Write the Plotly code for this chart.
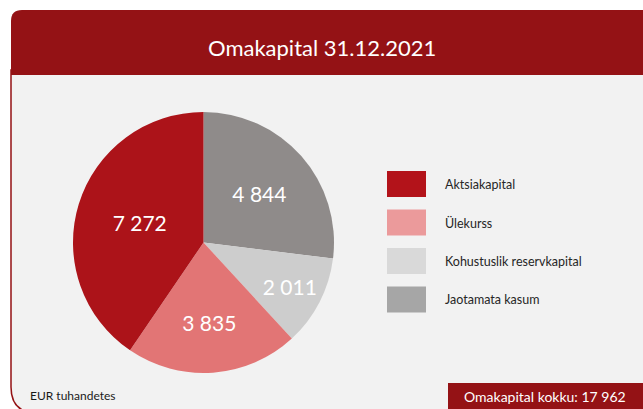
import plotly.graph_objects as go

# ---- data ----
categories = ["Jaotamata kasum", "Kohustuslik reservkapital", "Ülekurss", "Aktsiakapital"]
values = [4844, 2011, 3835, 7272]
slice_colors = ["#8f8b8a", "#cdcdcd", "#e27575", "#ac1319"]
legend_order = ["Aktsiakapital", "Ülekurss", "Kohustuslik reservkapital", "Jaotamata kasum"]
legend_colors = ["#b3131a", "#eb9a9b", "#d9d9d9", "#a6a6a6"]
title_text = "Omakapital 31.12.2021"
unit_text = "EUR tuhandetes"
total_label = "Omakapital kokku: "

W, H = 643, 409
FONT = "Lato, 'Open Sans', sans-serif"
DARK_RED = "#941215"


def px(x):
    return x / W


def py(y):
    return 1 - y / H


fig = go.Figure()

fig.add_trace(go.Pie(
    labels=categories,
    values=values,
    sort=False,
    direction="clockwise",
    rotation=0,
    marker=dict(colors=slice_colors, line=dict(width=0)),
    texttemplate="%{value:,.0f}",
    textposition="inside",
    insidetextorientation="horizontal",
    textfont=dict(color="white", size=21, family=FONT),
    hoverinfo="label+value",
    domain=dict(x=[px(73), px(334)], y=[py(373), py(112)]),
    showlegend=False,
))


def pth(cmds):
    out = []
    for c in cmds:
        if isinstance(c, str):
            out.append(c)
        else:
            out.append(f"{px(c[0]):.5f},{py(c[1]):.5f}")
    return " ".join(out)


shapes = []
# body panel
shapes.append(dict(
    type="path", xref="paper", yref="paper", layer="below",
    path=pth(["M", (11, 70), "L", (11, 387), "Q", (11, 413), (37, 413), "L", (660, 413), "L", (660, 70), "Z"]),
    fillcolor="#f2f2f2", line=dict(color=DARK_RED, width=1.5),
))
# header
shapes.append(dict(
    type="path", xref="paper", yref="paper", layer="below",
    path=pth(["M", (11, 75), "L", (11, 21), "Q", (11, 10), (22, 10), "L", (660, 10), "L", (660, 75), "Z"]),
    fillcolor=DARK_RED, line=dict(width=0),
))
# total box
shapes.append(dict(
    type="rect", xref="paper", yref="paper", layer="below",
    x0=px(448), x1=px(660), y0=py(383), y1=py(415),
    fillcolor=DARK_RED, line=dict(width=0),
))

annotations = [
    dict(text=title_text, x=px(322), y=py(47), xref="paper", yref="paper",
         showarrow=False, font=dict(color="white", size=22, family=FONT),
         xanchor="center", yanchor="middle"),
    dict(text=unit_text, x=px(28), y=py(395), xref="paper", yref="paper",
         showarrow=False, font=dict(color="#1a1a1a", size=12, family=FONT),
         xanchor="left", yanchor="middle"),
    dict(text=f"{total_label}{sum(values):,}".replace(",", " "), x=px(545), y=py(396),
         xref="paper", yref="paper", showarrow=False,
         font=dict(color="white", size=14, family=FONT),
         xanchor="center", yanchor="middle"),
]

# custom legend
for i, (lab, col) in enumerate(zip(legend_order, legend_colors)):
    top = 171 + i * 38.5
    shapes.append(dict(
        type="rect", xref="paper", yref="paper",
        x0=px(387), x1=px(426), y0=py(top + 26), y1=py(top),
        fillcolor=col, line=dict(width=0),
    ))
    annotations.append(dict(
        text=lab, x=px(443), y=py(top + 13), xref="paper", yref="paper",
        showarrow=False, font=dict(color="#262626", size=12.5, family=FONT),
        xanchor="left", yanchor="middle",
    ))

fig.update_layout(
    width=W, height=H,
    margin=dict(l=0, r=0, t=0, b=0),
    paper_bgcolor="white",
    plot_bgcolor="white",
    separators=", ",
    shapes=shapes,
    annotations=annotations,
    showlegend=False,
)

fig.write_html(
    "out.html",
    config={"displayModeBar": False},
    post_script="document.body.style.margin='0';document.body.style.overflow='hidden';",
)
